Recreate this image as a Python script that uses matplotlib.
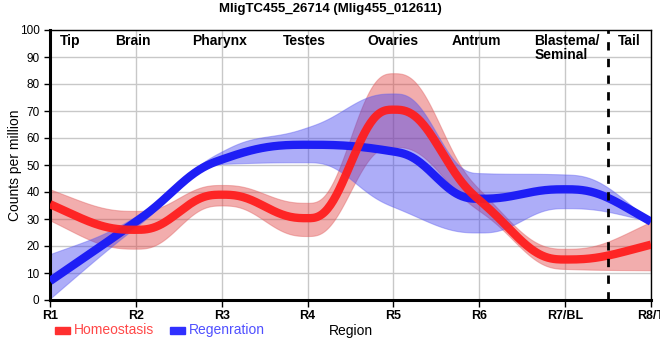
import matplotlib
matplotlib.use("Agg")
import matplotlib.pyplot as plt
import numpy as np

plt.rcParams['font.family'] = ['Liberation Sans', 'DejaVu Sans']

# data
regions = ['R1', 'R2', 'R3', 'R4', 'R5', 'R6', 'R7/BL', 'R8/T']
tissues = ['Tip', 'Brain', 'Pharynx', 'Testes', 'Ovaries', 'Antrum', 'Blastema/\nSeminal', 'Tail']

homeo_mean = [35.5, 26, 39, 30.3, 70.5, 37, 15, 20.5]
homeo_low = [29.5, 19, 35, 23.7, 56.7, 33, 11.5, 11]
homeo_high = [41, 33, 42.6, 36, 84, 41, 19, 29]

regen_mean = [7, 29, 52, 57.5, 55, 37.5, 41, 29]
regen_low = [0.5, 27, 50.4, 51, 34.5, 25, 34, 29]
regen_high = [17, 31, 55, 64, 76.5, 47, 46.5, 29]


def monotone(y, n=60):
    # monotone slopes (like d3 curveMonotoneX), quintic hermite between the points
    y = np.asarray(y, float)
    x = np.arange(len(y), dtype=float)
    s = np.diff(y)
    t = np.zeros(len(y))
    for i in range(1, len(y) - 1):
        s0, s1 = s[i - 1], s[i]
        p = (s0 + s1) / 2
        t[i] = (np.sign(s0) + np.sign(s1)) * min(abs(s0), abs(s1), 0.5 * abs(p))
    t[0] = (3 * s[0] - t[1]) / 2
    t[-1] = (3 * s[-1] - t[-2]) / 2
    xs, ys = [], []
    for i in range(len(y) - 1):
        u = np.linspace(0, 1, n, endpoint=False)
        h00 = 1 - 10 * u**3 + 15 * u**4 - 6 * u**5
        h10 = u - 6 * u**3 + 8 * u**4 - 3 * u**5
        h01 = 10 * u**3 - 15 * u**4 + 6 * u**5
        h11 = -4 * u**3 + 7 * u**4 - 3 * u**5
        xs.append(x[i] + u)
        ys.append(h00 * y[i] + h10 * t[i] + h01 * y[i + 1] + h11 * t[i + 1])
    xs.append([x[-1]])
    ys.append([y[-1]])
    return np.concatenate(xs), np.concatenate(ys)


fig = plt.figure(figsize=(6.6, 3.6), dpi=100)
ax = fig.add_axes([50 / 660, 60 / 360, 601 / 660, 270 / 360])

xh, yh = monotone(homeo_mean)
_, yhl = monotone(homeo_low)
_, yhh = monotone(homeo_high)
xr, yr = monotone(regen_mean)
_, yrl = monotone(regen_low)
_, yrh = monotone(regen_high)

ax.fill_between(xh, yhl, yhh, color='#e03c3c', alpha=0.42, lw=0.8, edgecolor='#e06060', zorder=2)
ax.fill_between(xr, yrl, yrh, color='#3c3cf0', alpha=0.42, lw=0.8, edgecolor='#6060f0', zorder=2)
ax.plot(xr, yr, color='#1e1ef5', lw=6, solid_capstyle='butt', zorder=3)
ax.plot(xh, yh, color='#ff1e1e', lw=6, solid_capstyle='butt', alpha=0.95, zorder=4)

ax.axvline(6.5, color='black', lw=2, ls=(0, (3, 3)), zorder=5)

ax.set_xlim(0, len(regions) - 1)
ax.set_ylim(0, 100)
ax.set_xticks(np.arange(len(regions)))
ax.set_xticklabels(regions, fontsize=9, fontweight='bold')
ax.set_yticks(np.arange(0, 101, 10))
ax.tick_params(axis='y', labelsize=8.5, length=4, width=1)
ax.tick_params(axis='x', length=5, width=1, pad=2)
ax.grid(color='#c8c8c8', lw=1)
ax.set_axisbelow(True)
for side in ['left', 'bottom']:
    ax.spines[side].set_linewidth(2.2)
for side in ['top', 'right']:
    ax.spines[side].set_linewidth(1)

# tissue names along the top
tx = [0.12, 0.97, 1.98, 2.96, 4.0, 4.97, 5.64, 6.75]
for x, name in zip(tx, tissues):
    ha = 'left' if name in ('Tip',) or name.startswith('Blastema') else 'center'
    ax.text(x, 98.5, name, ha=ha, va='top', fontsize=10, fontweight='bold', linespacing=1.0)

fig.text(330 / 660, 1 - 9 / 360, 'MligTC455_26714 (Mlig455_012611)', ha='center', va='center',
         fontsize=9.5, fontweight='bold')
ax.set_ylabel('Counts per million', fontsize=10)
ax.yaxis.set_label_coords(-0.046, 0.5)
fig.text(351 / 660, 1 - 331 / 360, 'Region', ha='center', va='center', fontsize=10)

# legend drawn by hand below the axes
fig.patches.append(plt.Rectangle((55 / 660, 1 - 334 / 360), 15 / 660, 7 / 360, color='#ff3030',
                                 transform=fig.transFigure, figure=fig))
fig.text(74 / 660, 1 - 330 / 360, 'Homeostasis', color='#ff4848', fontsize=10, va='center')
fig.patches.append(plt.Rectangle((170 / 660, 1 - 334 / 360), 15 / 660, 7 / 360, color='#3030ff',
                                 transform=fig.transFigure, figure=fig))
fig.text(189 / 660, 1 - 330 / 360, 'Regenration', color='#5050ff', fontsize=10, va='center')

fig.savefig('out.png', dpi=100)
